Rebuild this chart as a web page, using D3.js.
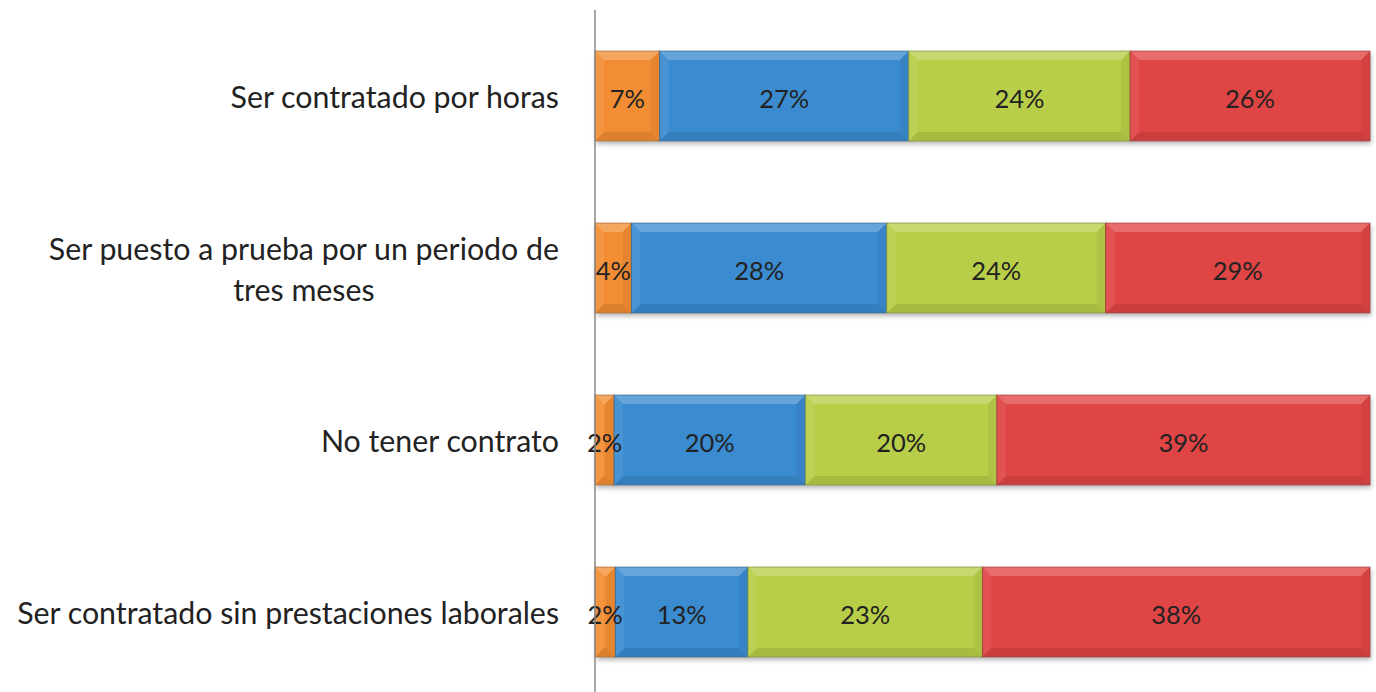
<!DOCTYPE html>
<html><head><meta charset="utf-8">
<script src="https://cdn.jsdelivr.net/npm/d3@7"></script>
<style>body{margin:0;background:#fff}svg{display:block}</style>
</head><body>
<script>
const categories = [
  ["Ser contratado por horas"],
  ["Ser puesto a prueba por un periodo de", "tres meses"],
  ["No tener contrato"],
  ["Ser contratado sin prestaciones laborales"]
];
const seriesNames = ["s1", "s2", "s3", "s4"];
const s1 = [7, 4, 2, 2];
const s2 = [27, 28, 20, 13];
const s3 = [24, 24, 20, 23];
const s4 = [26, 29, 39, 38];
const colors = ["#F38D33", "#3B8BD0", "#B8CE48", "#E04545"];

const W = 1376, H = 692;
const FONT = "Lato, 'Open Sans', sans-serif";
const svg = d3.select("body").append("svg").attr("width", W).attr("height", H);
const defs = svg.append("defs");
const f = defs.append("filter").attr("id","sh").attr("x","-5%").attr("y","-10%").attr("width","110%").attr("height","130%");
f.append("feDropShadow").attr("dx",1).attr("dy",3).attr("stdDeviation",2.5).attr("flood-color","#000").attr("flood-opacity",0.3);

function fitSize(str, target, base) {
  const t = svg.append("text").attr("font-family", FONT).attr("font-size", base).text(str);
  const w = t.node().getComputedTextLength();
  t.remove();
  return base * target / w;
}
const catSize = fitSize("Ser contratado sin prestaciones laborales", 542, 25);
const valSize = fitSize("20%", 50, 24);

const x0 = 595, x1 = 1370;
const y = d3.scaleBand().domain(d3.range(categories.length)).range([10, 698]).paddingInner(0.478).paddingOuter(0.239);
const rows = categories.map((c, i) => {
  const vals = [s1[i], s2[i], s3[i], s4[i]];
  const tot = d3.sum(vals);
  let acc = 0;
  return vals.map((v, k) => { const r = {i, k, v, a: acc / tot, b: (acc + v) / tot}; acc += v; return r; });
});
const x = d3.scaleLinear().domain([0, 1]).range([x0, x1]);

const g = svg.append("g");
rows.forEach(row => {
  const i = row[0].i;
  const top = y(i), bh = y.bandwidth();
  g.append("rect").attr("x", x(0)).attr("y", top).attr("width", x(1)-x(0)).attr("height", bh)
    .attr("fill", "#fff").attr("filter", "url(#sh)");
  row.forEach(d => {
    const L = x(d.a), R = x(d.b), w = R - L;
    const c = colors[d.k];
    const sg = g.append("g");
    sg.append("rect").attr("x", L).attr("y", top).attr("width", w).attr("height", bh).attr("fill", c);
    const bv = Math.min(9, w / 2);
    const T = top, B = top + bh;
    sg.append("path").attr("d", `M${L},${T}L${R},${T}L${R-bv},${T+bv}L${L+bv},${T+bv}Z`).attr("fill", "#fff").attr("opacity", 0.22);
    sg.append("path").attr("d", `M${L},${B}L${R},${B}L${R-bv},${B-bv}L${L+bv},${B-bv}Z`).attr("fill", "#000").attr("opacity", 0.09);
    sg.append("path").attr("d", `M${L},${T}L${L+bv},${T+bv}L${L+bv},${B-bv}L${L},${B}Z`).attr("fill", "#fff").attr("opacity", 0.07);
    sg.append("path").attr("d", `M${R},${T}L${R-bv},${T+bv}L${R-bv},${B-bv}L${R},${B}Z`).attr("fill", "#000").attr("opacity", 0.05);
    sg.append("rect").attr("x", L).attr("y", top).attr("width", w).attr("height", bh)
      .attr("fill", "none").attr("stroke", d3.color(c).darker(1)).attr("stroke-width", 1.1).attr("stroke-opacity", 0.65);
  });
  row.forEach(d => {
    g.append("text").attr("x", (x(d.a) + x(d.b)) / 2).attr("y", top + bh / 2 + 1.5)
      .attr("text-anchor", "middle").attr("dominant-baseline", "central")
      .attr("font-family", FONT).attr("font-size", valSize).attr("fill", "#222")
      .text(d.v + "%");
  });
});

svg.append("line").attr("x1", x0).attr("x2", x0).attr("y1", 10).attr("y2", 692).attr("stroke", "#888").attr("stroke-width", 1.5);

categories.forEach((lines, i) => {
  const cy = y(i) + y.bandwidth() / 2;
  const t = svg.append("text").attr("text-anchor", "middle")
    .attr("font-family", FONT).attr("font-size", catSize).attr("fill", "#222");
  const lh = 41;
  lines.forEach((ln, j) => {
    t.append("tspan").attr("x", 0).attr("y", cy + (j - (lines.length - 1) / 2) * lh).attr("dominant-baseline", "central").text(ln);
  });
  const bb = t.node().getBBox();
  t.attr("transform", `translate(${559 - bb.width / 2},0)`);
});
</script>
</body></html>
